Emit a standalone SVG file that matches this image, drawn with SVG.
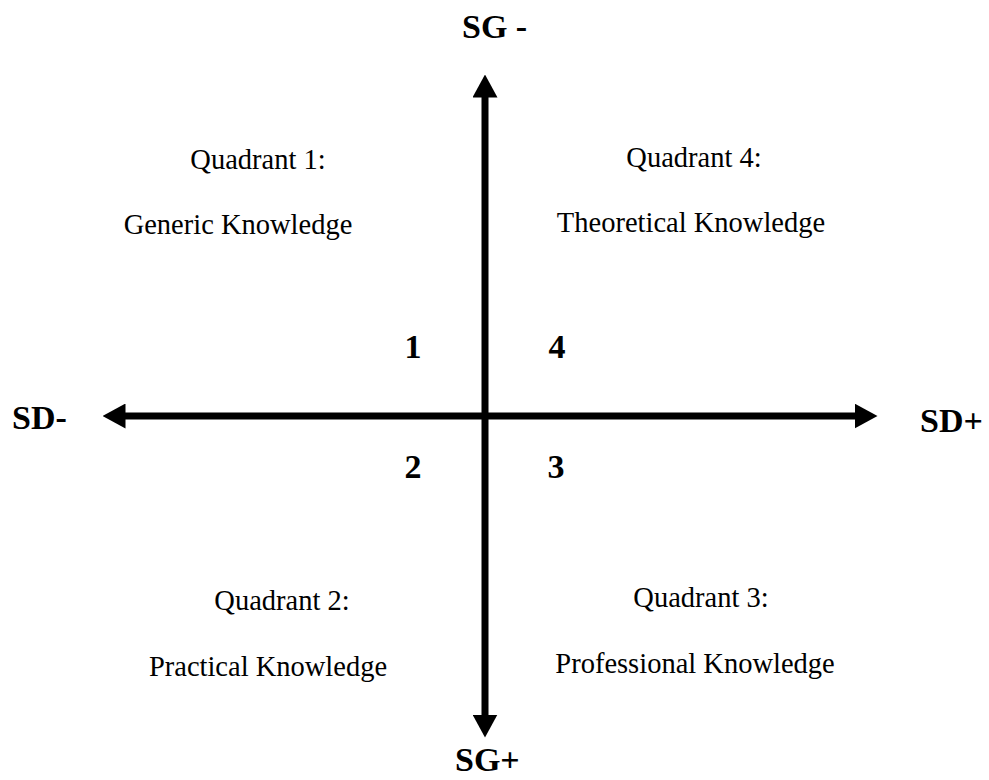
<svg xmlns="http://www.w3.org/2000/svg" width="989" height="780" viewBox="0 0 989 780">
<style>
  .axis { stroke: #000; stroke-width: 7; fill: none; }
  .lbl { font-family: "Liberation Serif", "Times New Roman", serif; font-weight: bold; font-size: 34px; fill: #000; }
  .q { font-family: "Liberation Serif", "Times New Roman", serif; font-size: 28.5px; fill: #000; text-anchor: middle; }
</style>
<defs>
  <marker id="head" markerUnits="userSpaceOnUse" viewBox="0 0 23 25" markerWidth="23" markerHeight="25" refX="0.5" refY="12.5" orient="auto-start-reverse">
    <path d="M0,0 L23,12.5 L0,25 Z" fill="#000"/>
  </marker>
</defs>
<rect width="989" height="780" fill="#fff"/>
<g id="connectors">
  <line class="axis" x1="485" y1="97" x2="485" y2="715" marker-start="url(#head)" marker-end="url(#head)"/>
  <line class="axis" x1="125" y1="416" x2="855" y2="416" marker-start="url(#head)" marker-end="url(#head)"/>
</g>
<g id="sg-minus"><text class="lbl" x="462" y="38">SG -</text></g>
<g id="sg-plus"><text class="lbl" x="455" y="771">SG+</text></g>
<g id="sd-minus"><text class="lbl" x="12" y="429">SD-</text></g>
<g id="sd-plus"><text class="lbl" x="920" y="432">SD+</text></g>
<g id="num1"><text class="lbl" x="413" y="358" text-anchor="middle">1</text></g>
<g id="num4"><text class="lbl" x="557" y="358" text-anchor="middle">4</text></g>
<g id="num2"><text class="lbl" x="413" y="478" text-anchor="middle">2</text></g>
<g id="num3"><text class="lbl" x="556" y="478" text-anchor="middle">3</text></g>
<g id="quadrant1">
  <text class="q" x="258" y="169">Quadrant 1:</text>
  <text class="q" x="238" y="234">Generic Knowledge</text>
</g>
<g id="quadrant4">
  <text class="q" x="694" y="167">Quadrant 4:</text>
  <text class="q" x="691" y="232">Theoretical Knowledge</text>
</g>
<g id="quadrant2">
  <text class="q" x="282" y="610">Quadrant 2:</text>
  <text class="q" x="268" y="676">Practical Knowledge</text>
</g>
<g id="quadrant3">
  <text class="q" x="701" y="607">Quadrant 3:</text>
  <text class="q" x="695" y="673">Professional Knowledge</text>
</g>
</svg>
